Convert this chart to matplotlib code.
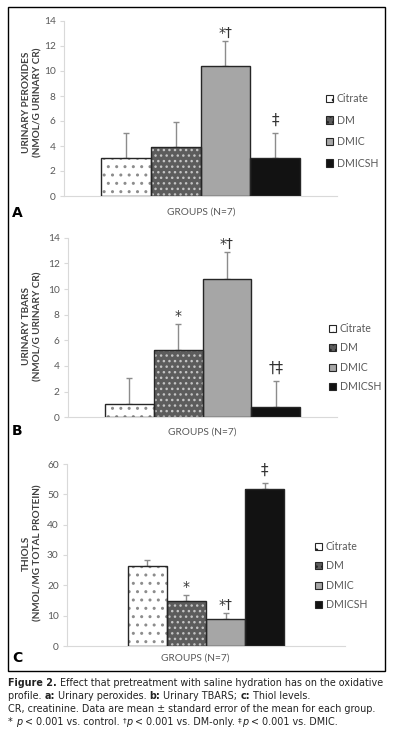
import matplotlib

matplotlib.use("Agg")
import matplotlib.pyplot as plt
from matplotlib.patches import Patch, Rectangle
import numpy as np

# --- veriler ---
groups = ["Citrate", "DM", "DMIC", "DMICSH"]

peroxides = [3.0, 3.9, 10.4, 3.0]
peroxides_sem = [2.0, 2.0, 2.0, 2.0]
peroxides_sig = ["", "", "*†", "‡"]

tbars = [1.05, 5.25, 10.8, 0.8]
tbars_sem = [2.0, 2.0, 2.05, 2.0]
tbars_sig = ["", "*", "*†", "†‡"]

thiols = [26.3, 15.0, 8.8, 51.7]
thiols_sem = [2.1, 1.8, 2.1, 1.9]
thiols_sig = ["", "*", "*†", "‡"]

W, H = 393, 742
FONT = ["Lato", "DejaVu Sans"]
GRI = "#595959"
EKSEN = "#d9d9d9"

# dolgu, tarama, tarama rengi
stiller = [
    ("white", "..", "#8c8c8c"),
    ("#5c5c5c", "...", "#c4c4c4"),
    ("#a6a6a6", None, "#a6a6a6"),
    ("#121212", None, "#121212"),
]

fig = plt.figure(figsize=(W / 100, H / 100), dpi=100)
plt.rcParams["hatch.linewidth"] = 1.0


def px(x, y):
    return x / W, 1 - y / H


def eksen_olustur(sol, sag, ust, alt):
    return fig.add_axes([sol / W, 1 - alt / H, (sag - sol) / W, (alt - ust) / H])


def panel(ax, degerler, sem, isaretler, ymax, adim, genislik, ylabel, harf,
          ylabel_xy, harf_y, groups_xy, leg_xy, leg_aralik):
    n = len(groups)
    x = (np.arange(n) - (n - 1) / 2) * genislik
    for i, (dolgu, tarama, tr) in enumerate(stiller):
        ax.bar(x[i], degerler[i], genislik, color=dolgu, edgecolor=tr,
               hatch=tarama, linewidth=0, zorder=2)
        ax.bar(x[i], degerler[i], genislik, fill=False, edgecolor="#262626",
               linewidth=1.0, zorder=3)
    ax.errorbar(x, degerler, yerr=[np.zeros(n), sem], fmt="none",
                ecolor="#8c8c8c", elinewidth=1.0, capsize=2.5, capthick=1.0,
                zorder=1)
    for i, s in enumerate(isaretler):
        if s:
            ax.annotate(s, (x[i], degerler[i] + sem[i]),
                        xytext=(0, 4 if "‡" in s else 1),
                        textcoords="offset points", ha="center", va="bottom",
                        fontsize=11 if "‡" in s else 10, color="#333333",
                        family="DejaVu Sans")
    ax.set_xlim(-0.5, 0.5)
    ax.set_ylim(0, ymax)
    ax.set_yticks(np.arange(0, ymax + 0.1, adim))
    ax.set_xticks([])
    for k in ("top", "right"):
        ax.spines[k].set_visible(False)
    for k in ("left", "bottom"):
        ax.spines[k].set_color(EKSEN)
        ax.spines[k].set_linewidth(0.8)
    ax.tick_params(axis="y", length=3, width=0.8, color=EKSEN, labelcolor=GRI,
                   labelsize=7.3, pad=3)
    for t in ax.get_yticklabels():
        t.set_family(FONT)

    fig.text(*px(*ylabel_xy), ylabel, rotation=90, ha="center", va="center",
             fontsize=7.2, fontweight="bold", color="#404040", family=FONT,
             linespacing=1.3)
    fig.text(*px(12, harf_y), harf, ha="left", va="center", fontsize=10,
             fontweight="bold", color="black", family="DejaVu Sans")
    fig.text(*px(*groups_xy), "GROUPS (N=7)", ha="center", va="center",
             fontsize=7.3, color=GRI, family=FONT)

    tutamaclar = [Patch(facecolor=d, edgecolor="#262626", hatch=t, linewidth=0.8)
                  for d, t, _ in stiller]
    leg = ax.legend(tutamaclar, groups, loc="upper left",
                    bbox_to_anchor=px(*leg_xy), bbox_transform=fig.transFigure,
                    frameon=False, fontsize=7.6, handlelength=0.7,
                    handleheight=0.7, handletextpad=0.3, borderpad=0,
                    borderaxespad=0, labelspacing=leg_aralik)
    for t in leg.get_texts():
        t.set_color(GRI)
        t.set_family(FONT)


ax_a = eksen_olustur(64, 337, 21, 196)
panel(ax_a, peroxides, peroxides_sem, peroxides_sig, 14, 2, 0.183,
      "URINARY PEROXIDES\n(NMOL/G URINARY CR)", "A", (32, 102), 213,
      (201, 212), (326, 93), 1.0)

ax_b = eksen_olustur(68, 337, 237.7, 417.3)
panel(ax_b, tbars, tbars_sem, tbars_sig, 14, 2, 0.182,
      "URINARY TBARS\n(NMOL/G URINARY CR)", "B", (32, 326), 431,
      (202, 432), (329, 323), 0.8)

ax_c = eksen_olustur(67, 345, 464, 646)
panel(ax_c, thiols, thiols_sem, thiols_sig, 60, 10, 0.141,
      "THIOLS\n(NMOL/MG TOTAL PROTEIN)", "C", (32, 553), 658,
      (195, 658), (315, 541), 0.8)

# dış çerçeve
fig.patches.append(Rectangle(px(8, 671), 377 / W, 664 / H, fill=False,
                             edgecolor="black", linewidth=1.0,
                             transform=fig.transFigure))

# --- alt yazı ---
r = fig.canvas.get_renderer()
CB = 6.95


def satir(parcalar, y):
    x = 8
    for metin, agirlik, stil, ust in parcalar:
        boyut = CB * 0.75 if ust else CB
        t = fig.text(*px(x, y - (3 if ust else 0)), metin, fontsize=boyut,
                     fontweight=agirlik, fontstyle=stil, color="#222222",
                     family="DejaVu Sans", ha="left", va="baseline")
        x += t.get_window_extent(r).width


satir([("Figure 2.", "bold", "normal", False),
       (" Effect that pretreatment with saline hydration has on the oxidative",
        "normal", "normal", False)], 686)
satir([("profile. ", "normal", "normal", False),
       ("a:", "bold", "normal", False),
       (" Urinary peroxides. ", "normal", "normal", False),
       ("b:", "bold", "normal", False),
       (" Urinary TBARS; ", "normal", "normal", False),
       ("c:", "bold", "normal", False),
       (" Thiol levels.", "normal", "normal", False)], 699)
satir([("CR, creatinine. Data are mean ± standard error of the mean for each group.",
        "normal", "normal", False)], 712)
satir([("* ", "normal", "normal", False),
       ("p", "normal", "italic", False),
       (" < 0.001 vs. control. ", "normal", "normal", False),
       ("†", "normal", "normal", True),
       ("p", "normal", "italic", False),
       (" < 0.001 vs. DM-only. ", "normal", "normal", False),
       ("‡", "normal", "normal", True),
       ("p", "normal", "italic", False),
       (" < 0.001 vs. DMIC.", "normal", "normal", False)], 725)

fig.savefig("out.png", dpi=100)
